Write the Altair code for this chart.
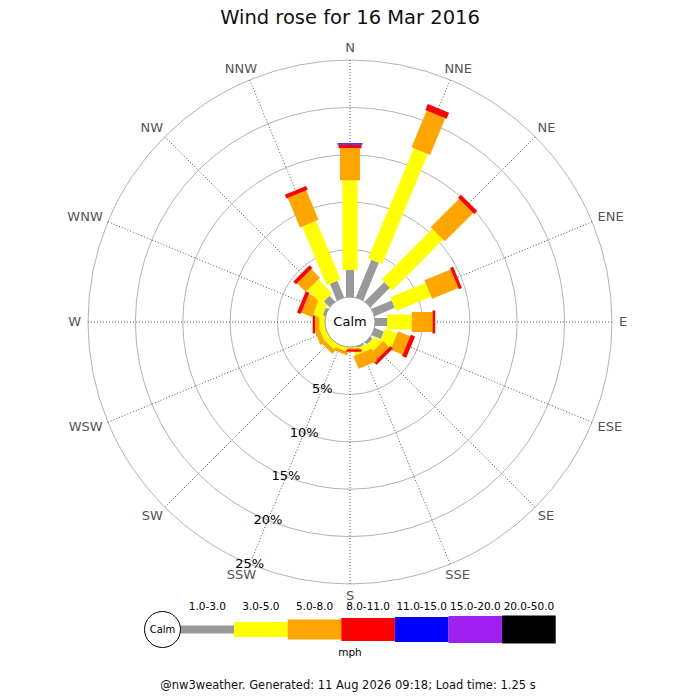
import math
import pandas as pd
import altair as alt

# ---------------- data ----------------
title_text = "Wind rose for 16 Mar 2016"
footer_text = "@nw3weather. Generated: 11 Aug 2026 09:18; Load time: 1.25 s"
unit_text = "mph"
calm_text = "Calm"

directions = ["N", "NNE", "NE", "ENE", "E", "ESE", "SE", "SSE",
              "S", "SSW", "SW", "WSW", "W", "WNW", "NW", "NNW"]
speed_bins = ["1.0-3.0", "3.0-5.0", "5.0-8.0", "8.0-11.0",
              "11.0-15.0", "15.0-20.0", "20.0-50.0"]
bin_colors = ["#999999", "#ffff00", "#ffa500", "#ff0000",
              "#0000ff", "#a020f0", "#000000"]
bin_widths = [8, 15, 20, 23, 25, 27, 28]

# percentage of the day per direction, per speed bin (mph)
pct_1_3 = [2.86, 4.30, 2.90, 2.30, 1.30, 1.06, 0.30, 0.20,
           0.00, 0.00, 0.00, 0.00, 0.00, 0.30, 0.85, 1.90]
pct_3_5 = [9.45, 12.58, 7.55, 4.00, 2.58, 1.37, 0.95, 0.65,
           0.12, 0.42, 0.63, 0.63, 0.60, 1.00, 2.05, 6.70]
pct_5_8 = [3.38, 4.18, 4.24, 2.99, 2.19, 1.38, 0.92, 1.42,
           0.13, 0.32, 0.43, 0.53, 0.46, 1.20, 1.30, 3.36]
pct_8_11 = [0.39, 0.69, 0.43, 0.35, 0.28, 0.48, 0.37, 0.00,
            0.25, 0.00, 0.00, 0.00, 0.24, 0.41, 0.40, 0.44]
pct_11_15 = [0.14, 0.00, 0.00, 0.00, 0.00, 0.00, 0.00, 0.00,
             0.00, 0.00, 0.00, 0.00, 0.00, 0.00, 0.00, 0.00]
pct_15_20 = [0.0] * 16
pct_20_50 = [0.0] * 16

ring_pcts = [5, 10, 15, 20, 25]
ring_labels = ["5%", "10%", "15%", "20%", "25%"]

# ---------------- layout ----------------
W, H = 684, 684          # whole svg (autosize none, padding 0)
CX, CY = 342, 314        # rose centre inside the view (px)
K = 9.48                 # px per percent
R0 = 25 / K              # calm circle radius (percent units)
FONT = "DejaVu Sans"

xs = alt.Scale(domain=[-CX / K, (W - CX) / K], range=[0, W], nice=False, zero=False)
ys = alt.Scale(domain=[-(H - CY) / K, CY / K], range=[H, 0], nice=False, zero=False)
rs = alt.Scale(type="linear", domain=[0, 40], range=[0, 40 * K], nice=False, zero=True)


def X(f):
    return alt.X(f, type="quantitative", scale=xs, axis=None)


def Y(f):
    return alt.Y(f, type="quantitative", scale=ys, axis=None)


def RAD(f):
    return alt.Radius(f, type="quantitative", scale=rs, stack=False)


def ang(i):
    a = math.radians(i * 22.5)
    return math.sin(a), math.cos(a)


series = [pct_1_3, pct_3_5, pct_5_8, pct_8_11, pct_11_15, pct_15_20, pct_20_50]

bar_rows = []
for i, d in enumerate(directions):
    s, c = ang(i)
    cum = 0.0
    for b, vals in enumerate(series):
        v = vals[i]
        if v <= 0:
            continue
        r_in = R0 + cum
        r_out = R0 + cum + v
        bar_rows.append(dict(dir=d, bin=speed_bins[b], pct=v,
                             x0=r_in * s, y0=r_in * c, x1=r_out * s, y1=r_out * c))
        cum += v
bars_df = pd.DataFrame(bar_rows)

spoke_rows = []
for i, d in enumerate(directions):
    s, c = ang(i)
    rr = R0 + ring_pcts[-1]
    spoke_rows.append(dict(dir=d, x0=0.0, y0=0.0, x1=rr * s, y1=rr * c))
spokes_df = pd.DataFrame(spoke_rows)

rings_df = pd.DataFrame({"cx": [0.0] * len(ring_pcts), "cy": [0.0] * len(ring_pcts),
                         "r": [R0 + p for p in ring_pcts]})

s_ssw, c_ssw = ang(9)
ringlab_df = pd.DataFrame({"label": ring_labels,
                           "x": [(R0 + p) * s_ssw for p in ring_pcts],
                           "y": [(R0 + p) * c_ssw for p in ring_pcts]})

calm_df = pd.DataFrame({"cx": [0.0], "cy": [0.0], "r": [R0], "label": [calm_text]})

# direction labels: box pushed outward by half its size
char_w = {"N": 9.7, "E": 8.2, "S": 8.3, "W": 12.9}
RL = 269
lab_rows = []
for i, d in enumerate(directions):
    s, c = ang(i)
    w = sum(char_w[ch] for ch in d)
    lab_rows.append(dict(dir=d, x=(RL + w / 2) * s / K, y=(RL + 5) * c / K))
dirlab_df = pd.DataFrame(lab_rows)

# legend
LX0 = (180.5 - 350) / K
LSEG = 53.6 / K
LY = (322 - 629.5) / K
LLY = (322 - 606.7) / K
leg_df = pd.DataFrame({
    "bin": speed_bins,
    "x0": [LX0 + b * LSEG for b in range(len(speed_bins))],
    "x1": [LX0 + (b + 1) * LSEG for b in range(len(speed_bins))],
    "xm": [LX0 + (b + 0.5) * LSEG for b in range(len(speed_bins))],
    "y": [LY] * len(speed_bins),
    "ly": [LLY] * len(speed_bins),
})
legcalm_df = pd.DataFrame({"cx": [(162.5 - 350) / K], "cy": [LY], "r": [18 / K],
                           "label": [calm_text]})

color_scale = alt.Scale(domain=speed_bins, range=bin_colors)
width_scale = alt.Scale(type="ordinal", domain=speed_bins, range=bin_widths)

# ---------------- layers ----------------
rings = alt.Chart(rings_df).mark_arc(filled=False, stroke="#b4b4b4", strokeWidth=1).encode(
    x=X("cx"), y=Y("cy"), radius=RAD("r"),
    theta=alt.value(0), theta2=alt.value(2 * math.pi))

spokes = alt.Chart(spokes_df).mark_rule(color="#555555", strokeWidth=1, strokeDash=[1, 2]).encode(
    x=X("x0"), y=Y("y0"), x2=alt.X2("x1"), y2=alt.Y2("y1"))

bars = alt.Chart(bars_df).mark_rule(strokeCap="butt", opacity=1).encode(
    x=X("x0"), y=Y("y0"), x2=alt.X2("x1"), y2=alt.Y2("y1"),
    color=alt.Color("bin:N", scale=color_scale, legend=None),
    strokeWidth=alt.StrokeWidth("bin:N", scale=width_scale, legend=None))

calm = alt.Chart(calm_df).mark_arc(fill="white", stroke="#999999", strokeWidth=1).encode(
    x=X("cx"), y=Y("cy"), radius=RAD("r"),
    theta=alt.value(0), theta2=alt.value(2 * math.pi))

calm_lab = alt.Chart(calm_df).mark_text(font=FONT, fontSize=13, color="black",
                                        align="center", baseline="middle").encode(
    x=X("cx"), y=Y("cy"), text="label:N")

dir_labels = alt.Chart(dirlab_df).mark_text(font=FONT, fontSize=13, color="#555555",
                                            align="center", baseline="middle").encode(
    x=X("x"), y=Y("y"), text="dir:N")

ring_lab = alt.Chart(ringlab_df).mark_text(font=FONT, fontSize=13, color="black",
                                           align="center", baseline="middle").encode(
    x=X("x"), y=Y("y"), text="label:N")

leg_bars = alt.Chart(leg_df).mark_rule(strokeCap="butt").encode(
    x=X("x0"), y=Y("y"), x2=alt.X2("x1"),
    color=alt.Color("bin:N", scale=color_scale, legend=None),
    strokeWidth=alt.StrokeWidth("bin:N", scale=width_scale, legend=None))

leg_labels = alt.Chart(leg_df).mark_text(font=FONT, fontSize=10.5, color="black",
                                         align="center", baseline="middle").encode(
    x=X("xm"), y=Y("ly"), text="bin:N")

leg_calm = alt.Chart(legcalm_df).mark_arc(fill="white", stroke="black", strokeWidth=1).encode(
    x=X("cx"), y=Y("cy"), radius=RAD("r"),
    theta=alt.value(0), theta2=alt.value(2 * math.pi))

leg_calm_lab = alt.Chart(legcalm_df).mark_text(font=FONT, fontSize=10, color="black",
                                               align="center", baseline="middle").encode(
    x=X("cx"), y=Y("cy"), text="label:N")

title = alt.Chart(pd.DataFrame({"t": [title_text]})).mark_text(
    font=FONT, fontSize=19.5, color="#111111", align="center", baseline="middle").encode(
    x=alt.value(CX), y=alt.value(10), text="t:N")
unit = alt.Chart(pd.DataFrame({"t": [unit_text]})).mark_text(
    font=FONT, fontSize=10.5, color="black", align="center", baseline="middle").encode(
    x=alt.value(CX), y=alt.value(645), text="t:N")
footer = alt.Chart(pd.DataFrame({"t": [footer_text]})).mark_text(
    font=FONT, fontSize=11.5, color="#111111", align="center", baseline="alphabetic").encode(
    x=alt.value(CX - 2), y=alt.value(681), text="t:N")

chart = alt.layer(
    rings, spokes, bars, calm, calm_lab, dir_labels, ring_lab,
    leg_bars, leg_calm, leg_calm_lab, leg_labels, title, unit, footer
).properties(
    width=W, height=H, padding=0,
    autosize=alt.AutoSizeParams(type="none"),
    background="white",
).configure_view(strokeWidth=0)

chart.save("out.html", embed_options={"renderer": "svg", "actions": False})
